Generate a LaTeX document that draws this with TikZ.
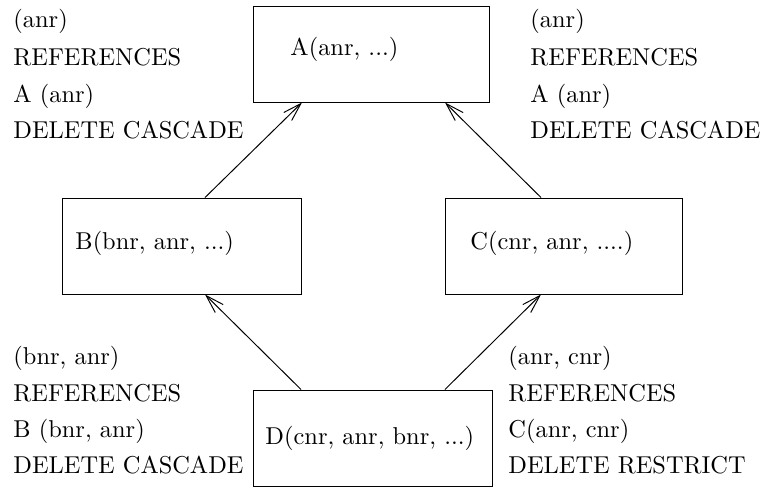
\documentclass[tikz,border=0pt]{standalone}
\usetikzlibrary{arrows.meta}
\begin{document}
\begin{tikzpicture}[x=0.41pt,y=-0.41pt,
  box/.style={draw,line width=0.4pt,inner sep=0pt,minimum height=39.36pt},
  lbl/.style={anchor=base west,inner sep=0pt,font=\fontsize{10}{12}\selectfont},
  conn/.style={line width=0.4pt,-{Straight Barb[length=7.5pt,width=4.6pt]}}]
\useasboundingbox (0,0) rectangle (761,487);
% boxes
\node[box,minimum width=96.76pt] (A) at (371,54) {};
\node[box,minimum width=97.99pt] (B) at (181.5,246) {};
\node[box,minimum width=97.17pt] (C) at (563.5,246) {};
\node[box,minimum width=97.99pt] (D) at (372.5,438) {};
% box texts
\node[lbl] (At) at (290,55) {A(anr, ...)};
\node[lbl] (Bt) at (75,249) {B(bnr, anr, ...)};
\node[lbl] (Ct) at (470,249) {C(cnr, anr, ....)};
\node[lbl] (Dt) at (265,444) {D(cnr, anr, bnr, ...)};
% connectors
\draw[conn] ([xshift=9.64pt]B.north) -- ([xshift=-28.29pt]A.south);
\draw[conn] ([xshift=-9.23pt]C.north) -- ([xshift=30.34pt]A.south);
\draw[conn] ([xshift=-29.3pt]D.north) -- ([xshift=9.64pt]B.south);
\draw[conn] ([xshift=29.7pt]D.north) -- ([xshift=-9.23pt]C.south);
% top-left
\node[lbl] (tl1) at (13,27) {(anr)};
\node[lbl] (tl2) at (13,65) {REFERENCES};
\node[lbl] (tl3) at (13,102) {A (anr)};
\node[lbl] (tl4) at (13,138.5) {DELETE CASCADE};
% top-right
\node[lbl] (tr1) at (530,27) {(anr)};
\node[lbl] (tr2) at (530,65) {REFERENCES};
\node[lbl] (tr3) at (530,102) {A (anr)};
\node[lbl] (tr4) at (530,138.5) {DELETE CASCADE};
% bottom-left
\node[lbl] (bl1) at (13,364.5) {(bnr, anr)};
\node[lbl] (bl2) at (13,401) {REFERENCES};
\node[lbl] (bl3) at (13,437) {B (bnr, anr)};
\node[lbl] (bl4) at (13,473) {DELETE CASCADE};
% bottom-right
\node[lbl] (br1) at (508,364.5) {(anr, cnr)};
\node[lbl] (br2) at (508,401) {REFERENCES};
\node[lbl] (br3) at (508,437) {C(anr, cnr)};
\node[lbl] (br4) at (508,473) {DELETE RESTRICT};
\end{tikzpicture}
\end{document}
